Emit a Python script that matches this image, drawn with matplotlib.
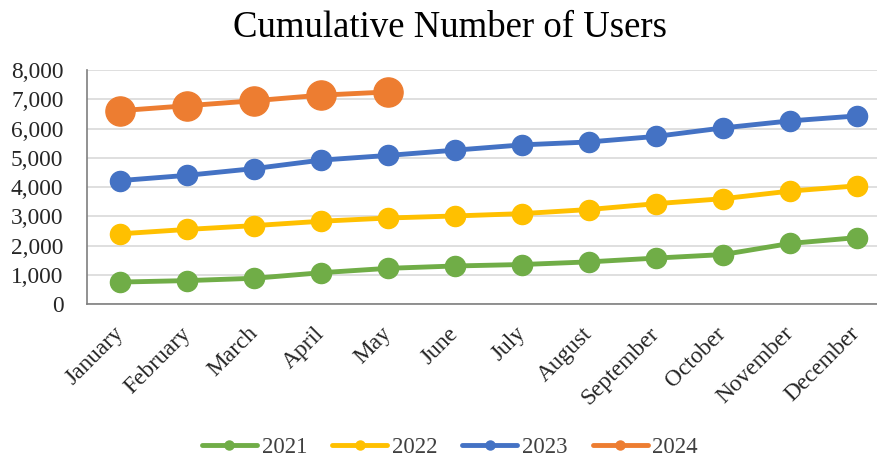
import matplotlib
matplotlib.use("Agg")
import matplotlib.pyplot as plt
from matplotlib.lines import Line2D

months = ["January", "February", "March", "April", "May", "June", "July",
          "August", "September", "October", "November", "December"]
users_2021 = [750, 800, 880, 1070, 1220, 1300, 1350, 1440, 1570, 1690, 2070, 2270]
users_2022 = [2400, 2550, 2680, 2830, 2940, 3010, 3090, 3230, 3430, 3600, 3860, 4040]
users_2023 = [4220, 4400, 4630, 4920, 5080, 5260, 5440, 5540, 5730, 6020, 6260, 6430]
users_2024 = [6610, 6780, 6950, 7140, 7250]
years = ["2021", "2022", "2023", "2024"]
yticks = [0, 1000, 2000, 3000, 4000, 5000, 6000, 7000, 8000]

colors = ["#70AD47", "#FFC000", "#4472C4", "#ED7D31"]
marker_sizes = [14.5, 14.5, 14.5, 21]

plt.rcParams["font.family"] = ["Liberation Serif", "DejaVu Serif"]

fig = plt.figure(figsize=(8.77, 4.61), dpi=100)
ax = fig.add_axes([87 / 877, 1 - 304 / 461, 1 - 87 / 877, (304 - 70) / 461])

series = [users_2021, users_2022, users_2023, users_2024]
for vals, c, ms in zip(series, colors, marker_sizes):
    x = list(range(len(vals)))
    ax.plot(x, vals, color=c, lw=3.5, marker="o", ms=ms,
            solid_capstyle="round", zorder=3, clip_on=False)

ax.set_xlim(-0.5, 11.3)
ax.set_ylim(0, 8000)
ax.set_yticks(yticks)
ax.set_yticklabels([f"{v:,}" for v in yticks], fontsize=16.8, color="#262626")
ax.set_xticks(range(len(months)))
ax.set_xticklabels(months, rotation=45, ha="right", va="center",
                   rotation_mode="anchor", fontsize=16.8, color="#262626")
ax.tick_params(axis="both", length=0)
ax.tick_params(axis="x", pad=19)
ax.tick_params(axis="y", pad=17)

ax.grid(axis="y", color="#d9d9d9", lw=1.2, zorder=0)
ax.set_axisbelow(True)
for s in ["top", "right"]:
    ax.spines[s].set_visible(False)
for s in ["left", "bottom"]:
    ax.spines[s].set_color("#7f7f7f")
    ax.spines[s].set_linewidth(1.2)

fig.text(0.513, 1 - 37 / 461, "Cumulative Number of Users",
         ha="center", va="baseline", fontsize=26.5)

handles = [Line2D([], [], color=c, lw=3.5, marker="o", ms=6.5, solid_capstyle="round")
           for c in colors]
fig.legend(handles, years, loc="center", bbox_to_anchor=(0.513, 1 - 447 / 461),
           ncol=4, frameon=False, fontsize=16.5, handlelength=2.4,
           handletextpad=0.2, columnspacing=1.1, labelcolor="#404040")

fig.savefig("out.png", dpi=100)
